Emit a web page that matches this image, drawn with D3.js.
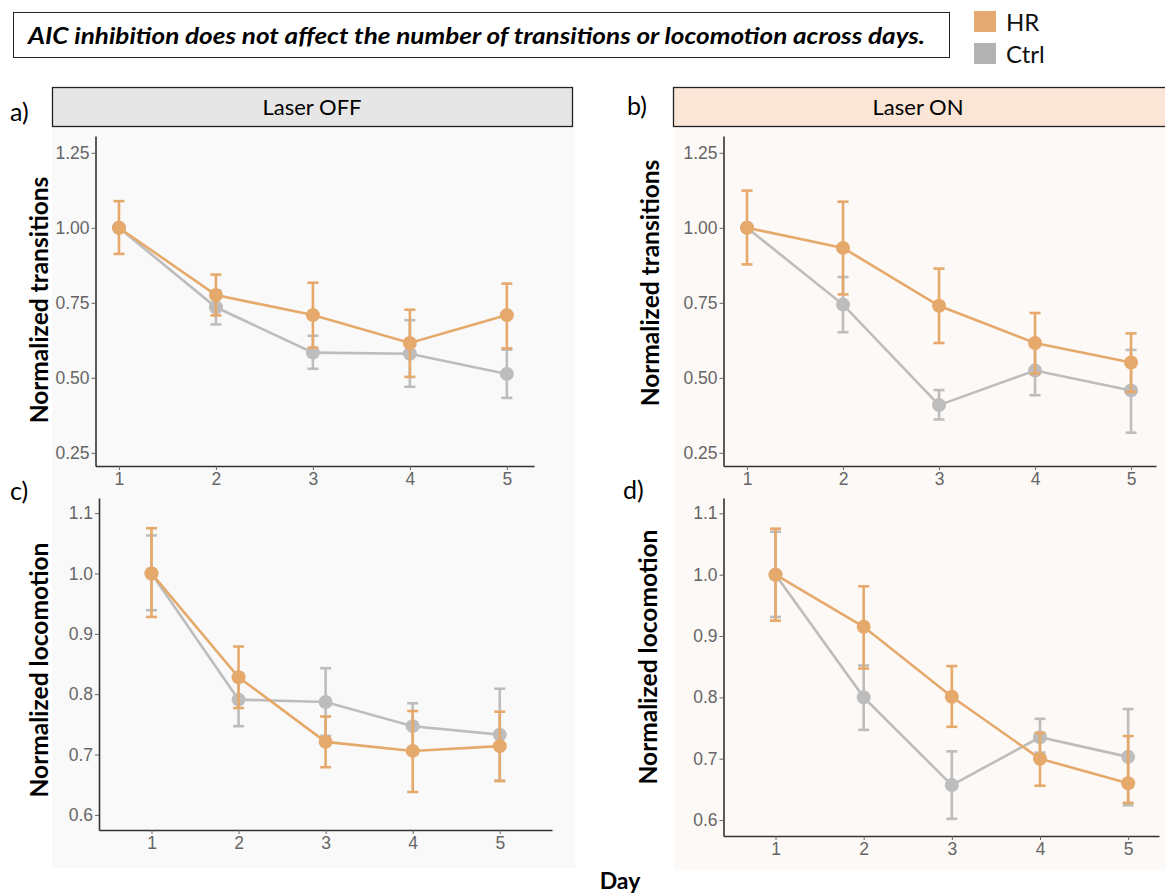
<!DOCTYPE html>
<html>
<head>
<meta charset="utf-8">
<script src="https://cdn.jsdelivr.net/npm/d3@7"></script>
<style>
  body { margin: 0; background: #fff; }
  .tick text { font-family: "Liberation Sans", Arial, sans-serif; font-size: 17.5px; fill: #666; }
  .tick line { stroke: #666; }
  .domain { stroke: #333; stroke-width: 1.6; }
</style>
</head>
<body>
<div class="chart"></div>
<script>
// ---- data ----
const days = [1, 2, 3, 4, 5];
const transTicks = [0.25, 0.50, 0.75, 1.00, 1.25];
const locoTicks = [0.6, 0.7, 0.8, 0.9, 1.0, 1.1];

// a) laser OFF, transitions (mean, lower and upper error bar ends)
const hrOffTrans = [1.00, 0.776, 0.709, 0.616, 0.709];
const hrOffTransLo = [0.913, 0.708, 0.600, 0.503, 0.598];
const hrOffTransHi = [1.089, 0.844, 0.817, 0.727, 0.814];
const ctrlOffTrans = [1.00, 0.735, 0.584, 0.580, 0.513];
const ctrlOffTransLo = [1.00, 0.678, 0.530, 0.470, 0.433];
const ctrlOffTransHi = [1.00, 0.791, 0.640, 0.692, 0.594];

// b) laser ON, transitions
const hrOnTrans = [1.00, 0.933, 0.740, 0.616, 0.551];
const hrOnTransLo = [0.878, 0.778, 0.616, 0.514, 0.453];
const hrOnTransHi = [1.124, 1.087, 0.864, 0.716, 0.648];
const ctrlOnTrans = [1.00, 0.744, 0.409, 0.524, 0.458];
const ctrlOnTransLo = [1.00, 0.652, 0.361, 0.442, 0.317];
const ctrlOnTransHi = [1.00, 0.836, 0.459, 0.611, 0.593];

// c) laser OFF, locomotion
const hrOffLoco = [1.00, 0.828, 0.721, 0.706, 0.714];
const hrOffLocoLo = [0.928, 0.777, 0.679, 0.638, 0.656];
const hrOffLocoHi = [1.075, 0.879, 0.763, 0.772, 0.771];
const ctrlOffLoco = [1.00, 0.791, 0.787, 0.747, 0.733];
const ctrlOffLocoLo = [0.939, 0.747, 0.731, 0.710, 0.657];
const ctrlOffLocoHi = [1.063, 0.835, 0.843, 0.785, 0.809];

// d) laser ON, locomotion
const hrOnLoco = [1.00, 0.915, 0.801, 0.700, 0.660];
const hrOnLocoLo = [0.925, 0.847, 0.752, 0.656, 0.628];
const hrOnLocoHi = [1.075, 0.981, 0.851, 0.742, 0.737];
const ctrlOnLoco = [1.00, 0.800, 0.657, 0.735, 0.703];
const ctrlOnLocoLo = [0.931, 0.747, 0.602, 0.710, 0.624];
const ctrlOnLocoHi = [1.070, 0.852, 0.712, 0.765, 0.781];

const hrColor = "#e6a96c";
const ctrlColor = "#bdbdbd";

const svg = d3.select('.chart')
    .append('svg')
    .attr('width', 1165)
    .attr('height', 894);

// background areas
svg.append('rect').attr('x', 52).attr('y', 127).attr('width', 523).attr('height', 741).attr('fill', '#f9f9f9');
svg.append('rect').attr('x', 675).attr('y', 127).attr('width', 490).attr('height', 743).attr('fill', '#fdf9f6');

// title box
svg.append('rect').attr('x', 13.5).attr('y', 12.5).attr('width', 936).attr('height', 45)
    .attr('fill', '#fff').attr('stroke', '#222').attr('stroke-width', 1);
svg.append('text')
    .attr('x', 28).attr('y', 44)
    .attr('textLength', 897).attr('lengthAdjust', 'spacingAndGlyphs')
    .style('font-family', 'Lato, "Open Sans", sans-serif')
    .style('font-weight', 'bold').style('font-style', 'italic').style('font-size', '23px')
    .text('AIC inhibition does not affect the number of transitions or locomotion across days.');

// legend
const legend = [{name: 'HR', color: '#e5aa72', y: 11}, {name: 'Ctrl', color: '#b3b3b3', y: 43}];
legend.forEach(l => {
    svg.append('rect').attr('x', 974).attr('y', l.y).attr('width', 22).attr('height', 21).attr('fill', l.color);
    svg.append('text').attr('x', 1006).attr('y', l.y + 20)
        .style('font-family', 'Lato, sans-serif').style('font-size', '24px').attr('fill', '#111')
        .text(l.name);
});

// strip headers
svg.append('rect').attr('x', 52.5).attr('y', 87.5).attr('width', 520).attr('height', 39)
    .attr('fill', '#e6e6e6').attr('stroke', '#222').attr('stroke-width', 1.3);
svg.append('text').attr('x', 312).attr('y', 115).attr('text-anchor', 'middle')
    .style('font-family', 'Lato, sans-serif').style('font-size', '22px').text('Laser OFF');
svg.append('rect').attr('x', 673.5).attr('y', 87.5).attr('width', 500).attr('height', 39)
    .attr('fill', '#fbe5d6').attr('stroke', '#222').attr('stroke-width', 1.3);
svg.append('text').attr('x', 918).attr('y', 115).attr('text-anchor', 'middle')
    .style('font-family', 'Lato, sans-serif').style('font-size', '22px').text('Laser ON');

// panel letters
const letters = [{t: 'a)', x: 10, y: 121}, {t: 'b)', x: 627, y: 115}, {t: 'c)', x: 10, y: 500}, {t: 'd)', x: 623, y: 499}];
letters.forEach(l => {
    svg.append('text').attr('x', l.x).attr('y', l.y)
        .style('font-family', 'Lato, sans-serif').style('font-size', '25px').text(l.t);
});

svg.append('text').attr('x', 620).attr('y', 889).attr('text-anchor', 'middle')
    .style('font-family', 'Lato, sans-serif').style('font-weight', 'bold').style('font-size', '23px')
    .text('Day');

const panels = [
    {hr: hrOffTrans, hrLo: hrOffTransLo, hrHi: hrOffTransHi,
     ctrl: ctrlOffTrans, ctrlLo: ctrlOffTransLo, ctrlHi: ctrlOffTransHi,
     xr: [95.5, 534], xd: [0.758, 5.28], yr: [466, 136], yd: [0.206, 1.306],
     ticks: transTicks, fmt: '.2f', label: 'Normalized transitions', lx: 38, ly: 300},
    {hr: hrOnTrans, hrLo: hrOnTransLo, hrHi: hrOnTransHi,
     ctrl: ctrlOnTrans, ctrlLo: ctrlOnTransLo, ctrlHi: ctrlOnTransHi,
     xr: [723.5, 1156], xd: [0.755, 5.26], yr: [466, 136], yd: [0.206, 1.306],
     ticks: transTicks, fmt: '.2f', label: 'Normalized transitions', lx: 649, ly: 283},
    {hr: hrOffLoco, hrLo: hrOffLocoLo, hrHi: hrOffLocoHi,
     ctrl: ctrlOffLoco, ctrlLo: ctrlOffLocoLo, ctrlHi: ctrlOffLocoHi,
     xr: [99, 552], xd: [0.397, 5.6], yr: [830, 498], yd: [0.575, 1.125],
     ticks: locoTicks, fmt: '.1f', label: 'Normalized locomotion', lx: 38, ly: 670},
    {hr: hrOnLoco, hrLo: hrOnLocoLo, hrHi: hrOnLocoHi,
     ctrl: ctrlOnLoco, ctrlLo: ctrlOnLocoLo, ctrlHi: ctrlOnLocoHi,
     xr: [723.5, 1159], xd: [0.41, 5.35], yr: [836, 498], yd: [0.574, 1.125],
     ticks: locoTicks, fmt: '.1f', label: 'Normalized locomotion', lx: 647, ly: 657}
];

panels.forEach(p => {
    const xScale = d3.scaleLinear().domain(p.xd).range(p.xr);
    const yScale = d3.scaleLinear().domain(p.yd).range(p.yr);

    svg.append('g')
        .attr('transform', 'translate(0,' + p.yr[0] + ')')
        .call(d3.axisBottom(xScale).tickValues(days).tickFormat(d3.format('d')).tickSize(4).tickSizeOuter(0).tickPadding(3));
    svg.append('g')
        .attr('transform', 'translate(' + p.xr[0] + ',0)')
        .call(d3.axisLeft(yScale).tickValues(p.ticks).tickFormat(d3.format(p.fmt)).tickSize(4).tickSizeOuter(0).tickPadding(2));

    svg.append('text')
        .attr('transform', 'translate(' + p.lx + ',' + p.ly + ') rotate(-90)')
        .attr('text-anchor', 'middle').attr('dominant-baseline', 'central')
        .style('font-family', 'Lato, sans-serif').style('font-weight', 'bold').style('font-size', '24.5px')
        .text(p.label);

    const series = [
        {vals: p.ctrl, lo: p.ctrlLo, hi: p.ctrlHi, color: ctrlColor},
        {vals: p.hr, lo: p.hrLo, hi: p.hrHi, color: hrColor}
    ];
    series.forEach(s => {
        const data = days.map((d, i) => ({day: d, v: s.vals[i], lo: s.lo[i], hi: s.hi[i]}));
        const g = svg.append('g');
        g.append('path')
            .datum(data)
            .attr('fill', 'none')
            .attr('stroke', s.color)
            .attr('stroke-width', 2.6)
            .attr('d', d3.line().x(d => xScale(d.day)).y(d => yScale(d.v)));
        const err = g.selectAll('.err').data(data).enter().append('g');
        err.append('line')
            .attr('x1', d => xScale(d.day)).attr('x2', d => xScale(d.day))
            .attr('y1', d => yScale(d.lo)).attr('y2', d => yScale(d.hi))
            .attr('stroke', s.color).attr('stroke-width', 2.6);
        ['lo', 'hi'].forEach(k => {
            err.append('line')
                .attr('x1', d => xScale(d.day) - 5.5).attr('x2', d => xScale(d.day) + 5.5)
                .attr('y1', d => yScale(d[k])).attr('y2', d => yScale(d[k]))
                .attr('stroke', s.color).attr('stroke-width', 2.6);
        });
        g.selectAll('circle').data(data).enter().append('circle')
            .attr('cx', d => xScale(d.day)).attr('cy', d => yScale(d.v))
            .attr('r', 7).attr('fill', s.color);
    });
});
</script>
</body>
</html>
